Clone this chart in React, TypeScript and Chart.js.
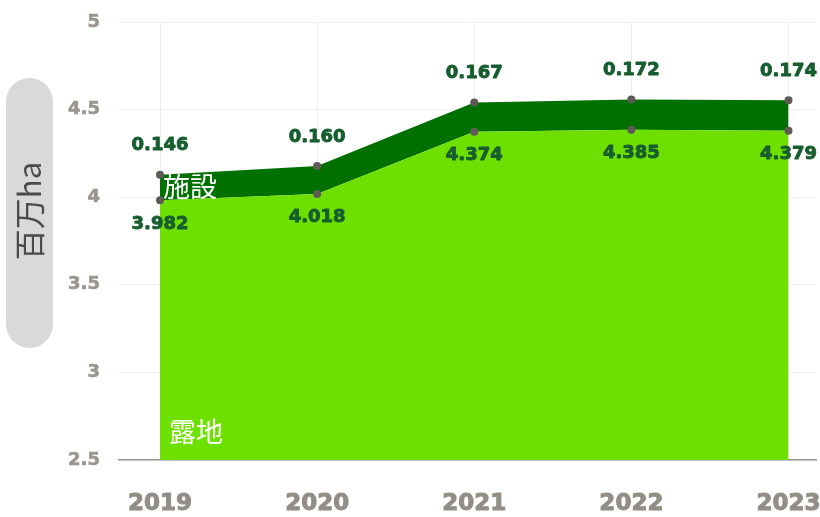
import React, { useEffect, useRef } from "react";
import { Chart, registerables } from "chart.js";
Chart.register(...registerables);

const years = [2019, 2020, 2021, 2022, 2023];
const openField = [3.982, 4.018, 4.374, 4.385, 4.379];
const greenhouse = [0.146, 0.16, 0.167, 0.172, 0.174];
const yTickValues = [2.5, 3, 3.5, 4, 4.5, 5];
const seriesNames = ["露地", "施設"];
const axisTitle = "百万ha";

const W = 820;
const H = 517;
const NUM_FONT = '"DejaVu Sans"';

const overlayPlugin = {
  id: "overlay",
  afterDatasetsDraw(chart: any) {
    const ctx = chart.ctx as CanvasRenderingContext2D;
    const xs = chart.scales.x;
    const ys = chart.scales.y;
    ctx.save();
    ctx.font = `bold 18px ${NUM_FONT}`;
    ctx.fillStyle = "#175e2f";
    ctx.strokeStyle = "#175e2f";
    ctx.lineWidth = 0.9;
    ctx.lineJoin = "round";
    ctx.textAlign = "center";
    ctx.textBaseline = "middle";
    years.forEach((yr, i) => {
      const px = xs.getPixelForValue(yr);
      const lo = ys.getPixelForValue(openField[i]);
      const hi = ys.getPixelForValue(openField[i] + greenhouse[i]);
      const a = openField[i].toFixed(3);
      const b = greenhouse[i].toFixed(3);
      ctx.fillText(a, px, lo + 23.5);
      ctx.strokeText(a, px, lo + 23.5);
      ctx.fillText(b, px, hi - 29);
      ctx.strokeText(b, px, hi - 29);
    });
    ctx.font = '27px "Noto Sans CJK JP"';
    ctx.fillStyle = "#ffffff";
    ctx.textAlign = "left";
    const x0 = xs.getPixelForValue(years[0]);
    ctx.fillText(
      seriesNames[1],
      x0 + 3,
      ys.getPixelForValue(openField[0] + greenhouse[0] / 2) - 1
    );
    ctx.fillText(seriesNames[0], x0 + 9, ys.bottom - 28);
    ctx.restore();
  },
  afterDraw(chart: any) {
    const ctx = chart.ctx as CanvasRenderingContext2D;
    ctx.save();
    const px = 6, py = 78, pw = 47, ph = 270;
    ctx.fillStyle = "#d9d9d9";
    ctx.beginPath();
    (ctx as any).roundRect(px, py, pw, ph, pw / 2);
    ctx.fill();
    ctx.translate(px + pw / 2, py + ph / 2 - 2);
    ctx.rotate(-Math.PI / 2);
    ctx.font = '31px "Noto Sans CJK JP"';
    ctx.fillStyle = "#4a4a4a";
    ctx.textAlign = "center";
    ctx.textBaseline = "middle";
    ctx.fillText(axisTitle, 0, 0);
    ctx.restore();
  },
};

export default function App() {
  const ref = useRef<HTMLCanvasElement>(null);
  useEffect(() => {
    if (!ref.current) return;
    const chart = new Chart(ref.current, {
      type: "line",
      data: {
        datasets: [
          {
            label: seriesNames[0],
            data: years.map((y, i) => ({ x: y, y: openField[i] })),
            fill: "start",
            backgroundColor: "#6ee000",
            borderColor: "#6ee000",
            borderWidth: 0,
            pointRadius: 4,
            pointBackgroundColor: "#5e5a55",
            pointBorderWidth: 0,
            tension: 0,
          },
          {
            label: seriesNames[1],
            data: years.map((y, i) => ({ x: y, y: greenhouse[i] })),
            fill: "-1",
            backgroundColor: "#007000",
            borderColor: "#007000",
            borderWidth: 0,
            pointRadius: 4,
            pointBackgroundColor: "#5e5a55",
            pointBorderWidth: 0,
            tension: 0,
          },
        ],
      },
      options: {
        animation: false,
        responsive: false,
        devicePixelRatio: 1,
        layout: { padding: { top: 22, right: 0, left: 0, bottom: 0 } },
        plugins: {
          legend: { display: false },
          tooltip: { enabled: false },
        },
        scales: {
          x: {
            type: "linear",
            min: 2018.739,
            max: 2023.175,
            afterBuildTicks: (s: any) => {
              s.ticks = years.map((v) => ({ value: v }));
            },
            afterFit: (s: any) => {
              s.height = 57;
              s.paddingLeft = 0;
              s.paddingRight = 0;
            },
            ticks: {
              callback: (v: any) => String(v),
              font: { family: "DejaVu Sans", size: 23, weight: "bold" },
              color: "#928d86",
              textStrokeColor: "#928d86",
              textStrokeWidth: 1,
              padding: 30,
              maxRotation: 0,
            },
            grid: { color: "#eeeeee", drawTicks: false },
            border: { display: true, color: "#9a958e", width: 1.5 },
          },
          y: {
            type: "linear",
            stacked: true,
            min: 2.5,
            max: 5,
            afterBuildTicks: (s: any) => {
              s.ticks = yTickValues.map((v) => ({ value: v }));
            },
            afterFit: (s: any) => {
              s.width = 119;
              s.paddingTop = 0;
              s.paddingBottom = 0;
            },
            ticks: {
              callback: (v: any) => String(v),
              font: { family: "DejaVu Sans", size: 18, weight: "bold" },
              color: "#9a958e",
              textStrokeColor: "#9a958e",
              textStrokeWidth: 0.6,
              padding: 19,
            },
            grid: { color: "#eeeeee", drawTicks: false },
            border: { display: false },
          },
        },
      },
      plugins: [overlayPlugin],
    } as any);
    return () => chart.destroy();
  }, []);
  return (
    <div style={{ position: "fixed", left: 0, top: 0, width: W, height: H, background: "#fff" }}>
      <canvas ref={ref} width={W} height={H} style={{ width: W, height: H, display: "block" }} />
    </div>
  );
}
